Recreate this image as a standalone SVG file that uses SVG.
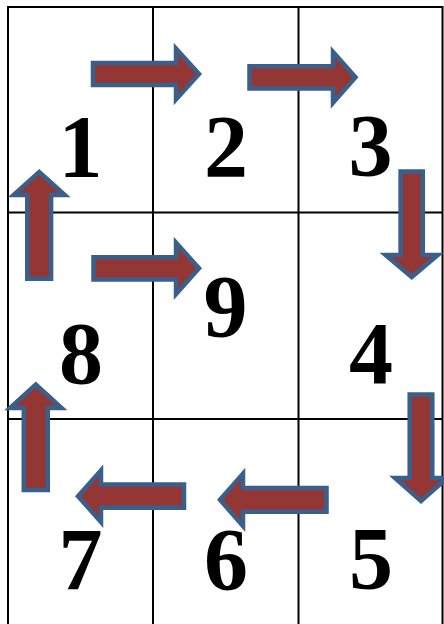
<svg xmlns="http://www.w3.org/2000/svg" width="444" height="624" viewBox="0 0 444 624">
<style>
.grid{stroke:#000;stroke-width:2;fill:none}
.arrow{fill:#943634;stroke:#3A5F8B;stroke-width:4.5;stroke-linejoin:miter}
.num{font-family:"Liberation Serif","Times New Roman",serif;font-weight:bold;font-size:88px;fill:#000;text-anchor:middle}
</style>
<rect width="444" height="624" fill="#fff"/>
<g id="grid" class="grid">
<rect x="8" y="7" width="434.5" height="630"/>
<line x1="153" y1="7" x2="153" y2="630"/>
<line x1="298.5" y1="7" x2="298.5" y2="630"/>
<line x1="8" y1="212.5" x2="442.5" y2="212.5"/>
<line x1="8" y1="419" x2="442.5" y2="419"/>
</g>
<g id="n1"><text class="num" x="80.5" y="176">1</text></g>
<g id="n2"><text class="num" x="226" y="176">2</text></g>
<g id="n3"><text class="num" x="370.5" y="175">3</text></g>
<g id="n8"><text class="num" x="81" y="383">8</text></g>
<g id="n9"><text class="num" x="225.5" y="336">9</text></g>
<g id="n4"><text class="num" x="371" y="383">4</text></g>
<g id="n7"><text class="num" x="80.5" y="589">7</text></g>
<g id="n6"><text class="num" x="226" y="589">6</text></g>
<g id="n5"><text class="num" x="371" y="588">5</text></g>
<g id="connectors">
<path class="arrow" d="M93,63 H176 V48.5 L199,74 L176,99.5 V85 H93 Z"/>
<path class="arrow" d="M249.5,66.2 H333 V51.9 L355.5,77.3 L333,102.7 V88.4 H249.5 Z"/>
<path class="arrow" d="M400.6,171.5 V255 H385.6 L411.7,277 L437.8,255 H422.8 V171.5 Z"/>
<path class="arrow" d="M409.7,394.5 V478 H395 L421,501 L447,478 H432.3 V394.5 Z"/>
<path class="arrow" d="M326.5,487.9 H243 V473.6 L220,499.8 L243,526 V511.7 H326.5 Z"/>
<path class="arrow" d="M184,484.6 H101 V470.4 L78,496.2 L101,522 V507.8 H184 Z"/>
<path class="arrow" d="M23.8,490 V408 H10 L35.8,384.5 L61.6,408 H47.8 V490 Z"/>
<path class="arrow" d="M27.3,278.8 V195 H13.6 L39.2,172 L64.8,195 H51.1 V278.8 Z"/>
<path class="arrow" d="M93.5,257.2 H176 V242.6 L199,268.3 L176,294 V279.4 H93.5 Z"/>
</g>
</svg>
